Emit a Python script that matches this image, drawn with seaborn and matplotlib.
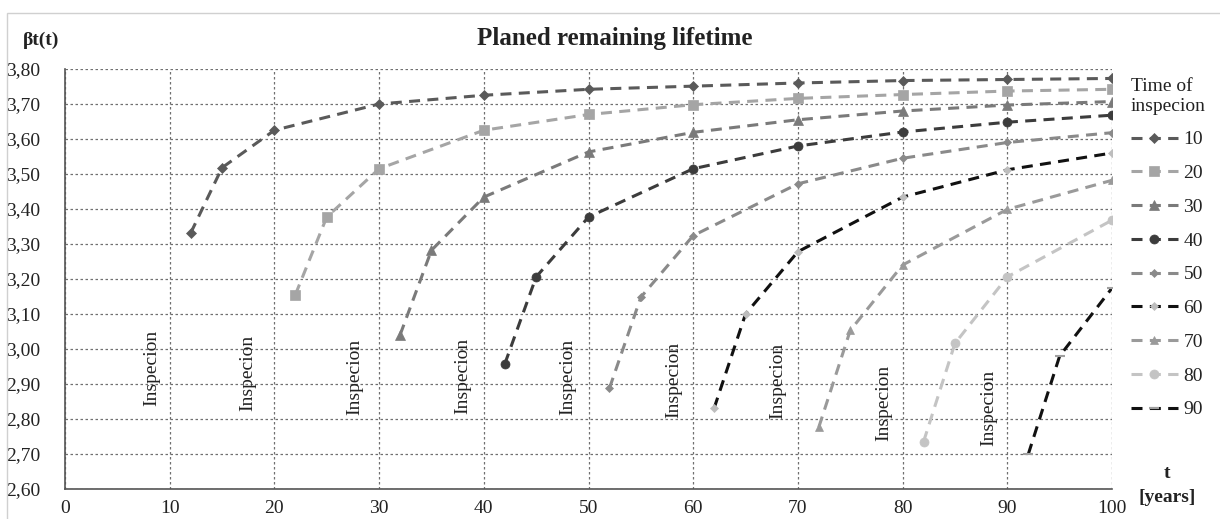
import matplotlib
matplotlib.use("Agg")
import matplotlib.pyplot as plt
from matplotlib.patches import Rectangle
from matplotlib.ticker import FuncFormatter, MultipleLocator
import pandas as pd
import seaborn as sns

# inspection time -> (years, beta)
inspection_years = [10, 20, 30, 40, 50, 60, 70, 80, 90]

t_10 = [12, 15, 20, 30, 40, 50, 60, 70, 80, 90, 100]
beta_10 = [3.331, 3.518, 3.625, 3.700, 3.725, 3.742, 3.751, 3.760, 3.767, 3.770, 3.773]

t_20 = [22, 25, 30, 40, 50, 60, 70, 80, 90, 100]
beta_20 = [3.155, 3.377, 3.515, 3.625, 3.670, 3.698, 3.716, 3.727, 3.737, 3.742]

t_30 = [32, 35, 40, 50, 60, 70, 80, 90, 100]
beta_30 = [3.040, 3.282, 3.434, 3.563, 3.619, 3.655, 3.680, 3.697, 3.707]

t_40 = [42, 45, 50, 60, 70, 80, 90, 100]
beta_40 = [2.957, 3.206, 3.377, 3.515, 3.580, 3.620, 3.648, 3.668]

t_50 = [52, 55, 60, 70, 80, 90, 100]
beta_50 = [2.888, 3.148, 3.324, 3.472, 3.545, 3.590, 3.618]

t_60 = [62, 65, 70, 80, 90, 100]
beta_60 = [2.831, 3.100, 3.278, 3.434, 3.512, 3.560]

t_70 = [72, 75, 80, 90, 100]
beta_70 = [2.777, 3.053, 3.240, 3.399, 3.482]

t_80 = [82, 85, 90, 100]
beta_80 = [2.735, 3.016, 3.206, 3.368]

t_90 = [92, 95, 100]
beta_90 = [2.699, 2.980, 3.174]

series_t = [t_10, t_20, t_30, t_40, t_50, t_60, t_70, t_80, t_90]
series_beta = [beta_10, beta_20, beta_30, beta_40, beta_50, beta_60, beta_70, beta_80, beta_90]

x_ticks = [0, 10, 20, 30, 40, 50, 60, 70, 80, 90, 100]

# "Inspecion" note placement (t, beta)
note_t = [8.3, 17.5, 27.7, 38.0, 48.0, 58.1, 68.1, 78.2, 88.2]
note_beta = [2.946, 2.931, 2.920, 2.923, 2.920, 2.911, 2.909, 2.846, 2.832]

line_colors = ["#5a5a5a", "#a5a5a5", "#7a7a7a", "#3c3c3c", "#8a8a8a",
               "#111111", "#9a9a9a", "#c4c4c4", "#111111"]
marker_colors = ["#5a5a5a", "#a5a5a5", "#7a7a7a", "#3c3c3c", "#8a8a8a",
                 "#bdbdbd", "#9a9a9a", "#c4c4c4", "#a0a0a0"]
marker_shapes = ["D", "s", "^", "o", "D", "D", "^", "o", "_"]
marker_sizes = [5, 6.5, 6.5, 6.5, 4.5, 4.5, 6, 6.5, 7]

frames = []
for year, ts, bs in zip(inspection_years, series_t, series_beta):
    frames.append(pd.DataFrame({"t": ts, "beta": bs, "inspection": str(year)}))
df = pd.concat(frames, ignore_index=True)

sns.set_theme(style="white")
plt.rcParams["font.family"] = ["Liberation Serif", "DejaVu Serif"]

fig = plt.figure(figsize=(12.2, 5.19), dpi=100)
ax = fig.add_axes([65 / 1220, 1 - 489 / 519, (1112 - 65) / 1220, (489 - 69) / 519])

for i, year in enumerate(inspection_years):
    sub = df[df["inspection"] == str(year)]
    sns.lineplot(
        data=sub, x="t", y="beta", ax=ax, label=str(year),
        color=line_colors[i], linewidth=2.2,
        marker=marker_shapes[i], markersize=marker_sizes[i],
        markerfacecolor=marker_colors[i], markeredgecolor=marker_colors[i],
        markeredgewidth=1.5 if marker_shapes[i] == "_" else 0.5,
        sort=False,
    )
for line in ax.lines:
    line.set_dashes((3.6, 2.4))

for xt, yb in zip(note_t, note_beta):
    ax.text(xt, yb, "Inspecion", rotation=90, ha="center", va="center",
            fontsize=14, color="#222222")

ax.set_xlim(0, 100)
ax.set_ylim(2.6, 3.8)
ax.set_xticks(x_ticks)
ax.yaxis.set_major_locator(MultipleLocator(0.1))
ax.yaxis.set_major_formatter(FuncFormatter(lambda v, _: f"{v:.2f}".replace(".", ",")))
ax.xaxis.set_major_formatter(FuncFormatter(lambda v, _: f"{v:.0f}"))
ax.tick_params(axis="both", labelsize=14, length=6, width=1, color="#555555",
               labelcolor="#222222", direction="out")
ax.tick_params(axis="y", pad=12)
ax.tick_params(axis="x", pad=2)
ax.grid(True, linestyle=(0, (2, 2)), linewidth=0.9, color="#707070")
ax.set_axisbelow(True)
ax.set_xlabel("")
ax.set_ylabel("")
for side in ["top", "right"]:
    ax.spines[side].set_visible(False)
for side in ["left", "bottom"]:
    ax.spines[side].set_color("#555555")
    ax.spines[side].set_linewidth(1.2)

fig.text(615 / 1220, 1 - 38 / 519, "Planed remaining lifetime", ha="center",
         va="center", fontsize=18, fontweight="bold", color="#222222")
fig.text(23 / 1220, 1 - 40 / 519, "βt(t)", ha="left", va="center",
         fontsize=14, fontweight="bold", color="#222222")
fig.text(1167 / 1220, 1 - 473 / 519, "t", ha="center", va="center",
         fontsize=14, fontweight="bold", color="#222222")
fig.text(1167 / 1220, 1 - 498 / 519, "[years]", ha="center", va="center",
         fontsize=14, fontweight="bold", color="#222222")

leg = ax.legend(
    title="Time of\ninspecion", loc="upper left",
    bbox_to_anchor=(1131 / 1220, 1 - 78 / 519), bbox_transform=fig.transFigure,
    frameon=False, fontsize=14, title_fontsize=14, handlelength=2.4,
    handletextpad=0.3, labelspacing=0.83, borderpad=0, borderaxespad=0,
    alignment="left", numpoints=1,
)
for text in leg.get_texts():
    text.set_color("#222222")
leg.get_title().set_color("#222222")

fig.add_artist(Rectangle((7 / 1220, -0.1), 1.2, 1.1 - 13 / 519,
                         transform=fig.transFigure, fill=False,
                         edgecolor="#d0d0d0", linewidth=1.0))

fig.savefig("out.png", dpi=100)
